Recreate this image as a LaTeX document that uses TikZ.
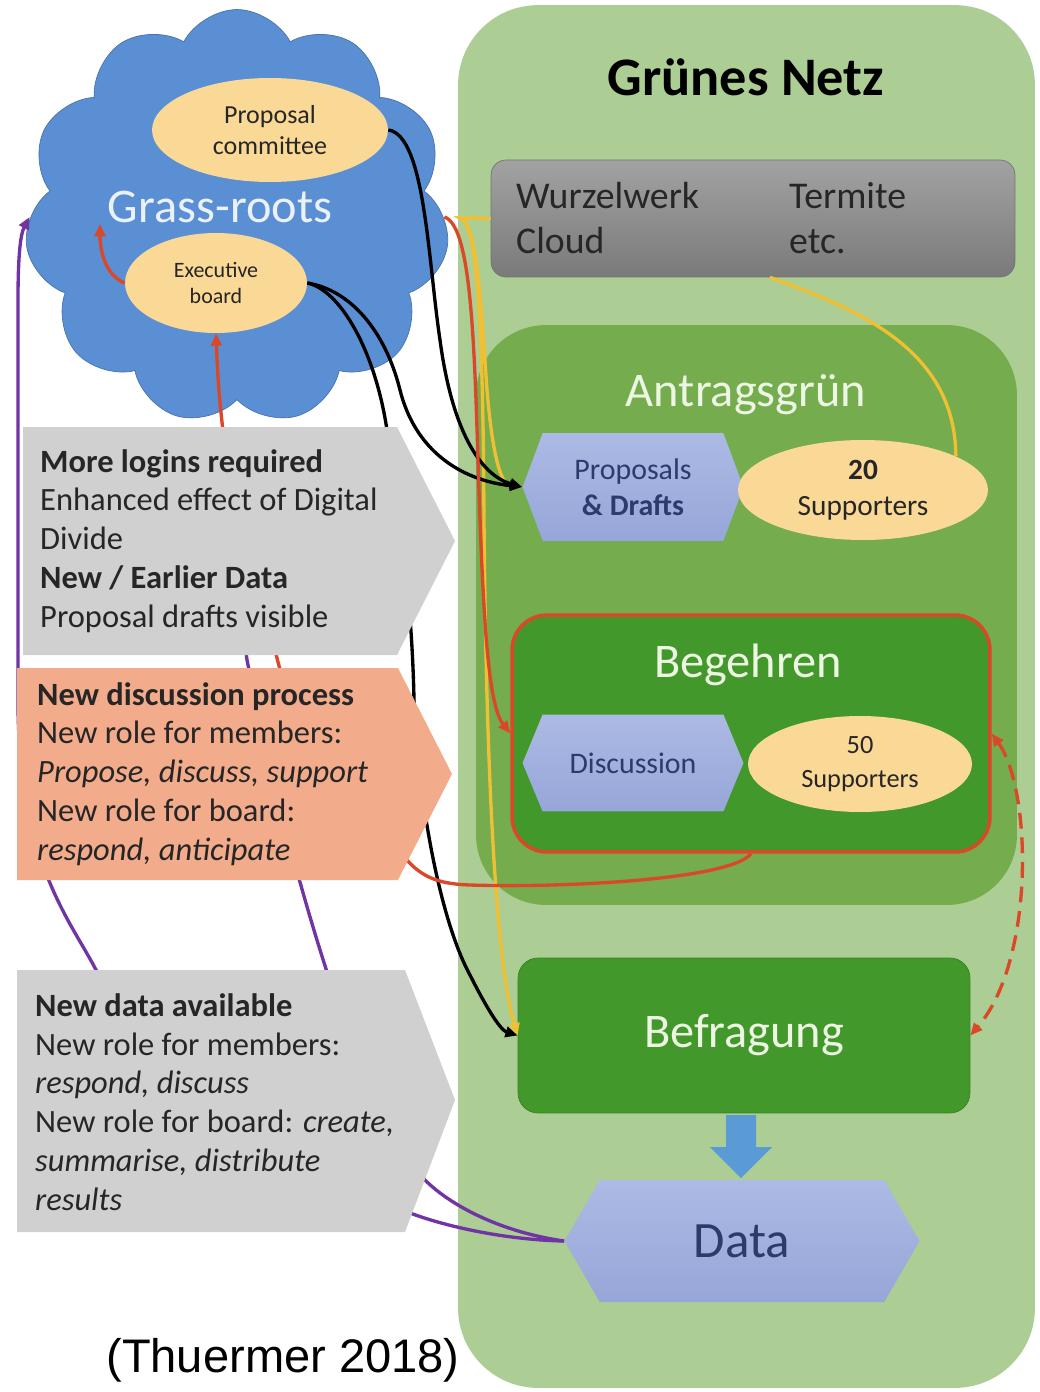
\documentclass[tikz,border=0pt]{standalone}
\usepackage{fontspec}
\setmainfont{Carlito}
\newfontfamily\citefont{Liberation Sans}
\usetikzlibrary{shapes.geometric,shapes.symbols,arrows.meta}

\definecolor{netgreen}{RGB}{172,206,148}
\definecolor{aggreen}{RGB}{116,172,78}
\definecolor{darkgreen}{RGB}{66,152,42}
\definecolor{cloudblue}{RGB}{91,143,212}
\definecolor{peach}{RGB}{250,217,150}
\definecolor{lavhi}{RGB}{172,186,228}
\definecolor{lavlo}{RGB}{150,166,216}
\definecolor{navy}{RGB}{44,58,108}
\definecolor{boxgray}{RGB}{208,208,208}
\definecolor{salmon}{RGB}{242,172,140}
\definecolor{toolhi}{RGB}{162,162,162}
\definecolor{toollo}{RGB}{122,122,122}
\definecolor{linered}{RGB}{218,72,40}
\definecolor{lineyellow}{RGB}{240,192,52}
\definecolor{linepurple}{RGB}{112,52,164}
\definecolor{arrowblue}{RGB}{91,155,213}
\definecolor{paletext}{RGB}{236,246,226}

\begin{document}
\begin{tikzpicture}[x=0.02cm,y=-0.02cm,
  panel/.style={rectangle, rounded corners=#1, inner sep=0pt},
  hexa/.style={signal, signal to=west and east, top color=lavhi, bottom color=lavlo,
    text=navy, inner sep=0pt, align=center, font=\fontsize{17}{20.4}\selectfont},
  oval/.style={ellipse, fill=peach, inner sep=0pt, align=center, text=black!85},
  title/.style={font=\fontsize{27.5}{33}\selectfont, text=paletext},
  note/.style={anchor=west, align=left, text=black!85, font=\fontsize{18.5}{22.1}\selectfont},
  blk/.style={line width=1.9pt, black, -{Triangle[length=7pt,width=6pt]}},
  ylw/.style={line width=1.9pt, lineyellow, -{Triangle[length=7pt,width=6pt]}},
  rd/.style={line width=1.9pt, linered, -{Triangle[length=7pt,width=6pt]}},
  prp/.style={line width=1.9pt, linepurple}]
\useasboundingbox (0,0) rectangle (1040,1392);
\fill[white] (0,0) rectangle (1040,1392);

% Gruenes Netz
\node[panel=1.6cm, fill=netgreen, minimum width=11.54cm, minimum height=27.66cm] (net) at (746.5,696.5) {};
\node[font=\bfseries\fontsize{30.9}{36}\selectfont] (nettitle) at (746,77) {Grünes Netz};
\node[panel=0.3cm, draw=black!55, top color=toolhi, bottom color=toollo, minimum width=10.48cm, minimum height=2.34cm] (tools) at (753,218.5) {};
\node[anchor=west, align=left, text=black!85, font=\fontsize{21.5}{26}\selectfont] (tl1) at (510,218) {Wurzelwerk\\Cloud};
\node[anchor=west, align=left, text=black!85, font=\fontsize{21.5}{26}\selectfont] (tl2) at (783,218) {Termite\\etc.};

% Antragsgruen
\node[panel=1.4cm, fill=aggreen, minimum width=10.82cm, minimum height=11.6cm] (ag) at (746.5,615) {};
\node[title] (agtitle) at (746,395) {Antragsgrün};
\node[hexa, minimum width=4.42cm, minimum height=2.16cm, signal pointer angle=139] (pd) at (633,487) {Proposals\\\textbf{\& Drafts}};
\node[oval, minimum width=5cm, minimum height=2cm, font=\fontsize{16.7}{20.4}\selectfont] (s20) at (863,490) {\textbf{20}\\Supporters};

% Begehren
\node[panel=0.7cm, fill=darkgreen, draw=linered, line width=2pt, minimum width=9.56cm, minimum height=4.74cm] (beg) at (751,733.5) {};
\node[title] (begtitle) at (748,665) {Begehren};
\node[hexa, minimum width=4.42cm, minimum height=1.94cm, signal pointer angle=135] (disc) at (633,763) {Discussion};
\node[oval, minimum width=4.48cm, minimum height=1.92cm, font=\fontsize{15}{19.3}\selectfont] (s50) at (860,764) {50\\Supporters};

% Befragung and Data
\node[panel=0.4cm, fill=darkgreen, draw=darkgreen!85!black, minimum width=9.04cm, minimum height=3.1cm, title] (bef) at (744,1035.5) {Befragung};
\fill[arrowblue] (726,1115) -- (756,1115) -- (756,1147) -- (772,1147) -- (741,1178) -- (710,1147) -- (726,1147) -- cycle;
\node[hexa, minimum width=7.1cm, minimum height=2.44cm, signal pointer angle=120, font=\fontsize{29}{34}\selectfont] (data) at (742,1241) {Data};

% Grass-roots
\node[cloud, cloud puffs=11, cloud puff arc=125, aspect=1.05, fill=cloudblue, draw=cloudblue!80!black, minimum width=8.5cm, minimum height=8.3cm] (gr) at (237,217) {};
\node[title, text=white!88!cloudblue] (grlbl) at (220,207) {Grass-roots};
\node[oval, minimum width=4.72cm, minimum height=2.08cm, font=\fontsize{14.8}{17.6}\selectfont] (pc) at (270,130) {Proposal\\committee};
\node[oval, minimum width=3.64cm, minimum height=2cm, font=\fontsize{12.5}{14.7}\selectfont] (eb) at (216,283) {Executive\\board};
\coordinate (grin) at (100,224);
\coordinate (pend) at (232,540);

% connectors
\draw[prp] (data.west) .. controls (500,1232) and (450,1205) .. (425,1180) .. controls (380,1120) and (345,1020) .. (328,975) .. controls (315,935) and (305,900) .. (298,875) .. controls (280,800) and (255,700) .. (247,660) -- (pend);
\draw[prp, -{Triangle[length=7pt,width=6pt]}] (data.west) .. controls (510,1240) and (450,1228) .. (410,1213) .. controls (250,1150) and (120,1010) .. (95,968) .. controls (70,920) and (18,860) .. (18,700) -- (18,300) .. controls (18,260) and (20,235) .. (gr.west);
\draw[ylw] (tools.west) -- (460,218) .. controls (478,222) and (483,330) .. (484,520) .. controls (486,760) and (495,960) .. (bef.west);
\draw[ylw] (tools.west) -- (460,218) .. controls (478,222) and (482,320) .. (487,390) .. controls (492,450) and (500,485) .. (pd.west);
\draw[ylw, -] ([xshift=0.34cm]tools.south) .. controls (860,310) and (955,350) .. (s20.20);
\draw[blk] (pc.east) .. controls (425,135) and (428,260) .. (440,340) .. controls (452,430) and (480,475) .. (pd.west);
\draw[blk] (eb.east) .. controls (350,290) and (385,330) .. (400,390) .. controls (415,450) and (460,480) .. (pd.west);
\draw[blk] (eb.east) .. controls (340,290) and (375,350) .. (387,430) .. controls (400,520) and (412,600) .. (414,700) .. controls (418,800) and (440,920) .. (470,975) .. controls (485,1005) and (500,1030) .. (bef.west);
\draw[rd] (gr.east) .. controls (470,225) and (474,330) .. (478,460) .. controls (483,620) and (488,705) .. (beg.west);
\draw[rd] (beg.south) .. controls (730,880) and (560,888) .. (470,885) .. controls (435,884) and (420,875) .. (405,858) .. controls (340,780) and (290,710) .. (278,662) .. controls (255,570) and (222,500) .. (eb.south);
\draw[rd] (eb.west) .. controls (105,275) and (100,250) .. (grin);
\draw[rd, dashed, dash pattern=on 9pt off 5pt, {Triangle[length=7pt,width=6pt]}-{Triangle[length=7pt,width=6pt]}] (beg.east) .. controls (1032,790) and (1035,960) .. (bef.east);

% notes
\fill[boxgray] (23,427) -- (397,427) -- (455,541) -- (397,655) -- (23,655) -- cycle;
\node[note] (note1) at (34,541) {\textbf{More logins required}\\Enhanced effect of Digital\\Divide\\\textbf{New / Earlier Data}\\Proposal drafts visible};
\fill[salmon] (17,668) -- (398,668) -- (452,774) -- (398,880) -- (17,880) -- cycle;
\node[note] (note2) at (31,774) {\textbf{New discussion process}\\New role for members:\\\textit{Propose, discuss, support}\\New role for board:\\\textit{respond, anticipate}};
\fill[boxgray] (17,970) -- (405,970) -- (455,1100) -- (405,1232) -- (17,1232) -- cycle;
\node[note] (note3) at (29,1102) {\textbf{New data available}\\New role for members:\\\textit{respond, discuss}\\New role for board: \textit{create,}\\\textit{summarise, distribute}\\\textit{results}};

\node[font=\citefont\fontsize{26.8}{32}\selectfont] (cite) at (283,1360) {(Thuermer 2018)};
\end{tikzpicture}
\end{document}
